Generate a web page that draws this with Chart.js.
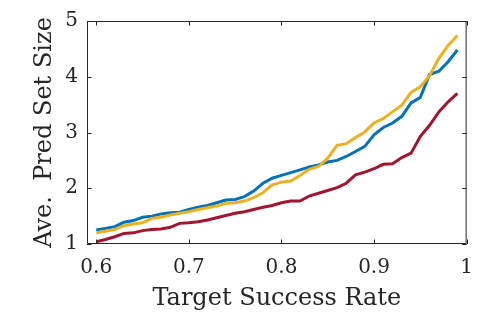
<!DOCTYPE html>
<html>
<head>
<meta charset="utf-8">
<script src="https://cdn.jsdelivr.net/npm/chart.js@4.4.1/dist/chart.umd.min.js"></script>
<style>
  html, body { margin: 0; padding: 0; background: #fff; }
  canvas { display: block; }
</style>
</head>
<body>
<canvas id="myChart" width="485" height="316"></canvas>
<script>
"use strict";

// DATA
const targetRate = [0.60, 0.61, 0.62, 0.63, 0.64, 0.65, 0.66, 0.67, 0.68, 0.69,
  0.70, 0.71, 0.72, 0.73, 0.74, 0.75, 0.76, 0.77, 0.78, 0.79,
  0.80, 0.81, 0.82, 0.83, 0.84, 0.85, 0.86, 0.87, 0.88, 0.89,
  0.90, 0.91, 0.92, 0.93, 0.94, 0.95, 0.96, 0.97, 0.98, 0.99];

const blueSize = [1.25, 1.28, 1.31, 1.39, 1.42, 1.48, 1.50, 1.54, 1.56, 1.57,
  1.62, 1.66, 1.69, 1.74, 1.79, 1.80, 1.85, 1.95, 2.09, 2.18,
  2.23, 2.28, 2.33, 2.38, 2.42, 2.47, 2.50, 2.57, 2.66, 2.75,
  2.96, 3.09, 3.17, 3.29, 3.53, 3.63, 4.04, 4.10, 4.27, 4.48];

const yellowSize = [1.20, 1.23, 1.26, 1.33, 1.36, 1.38, 1.46, 1.48, 1.52, 1.55,
  1.58, 1.62, 1.65, 1.68, 1.73, 1.74, 1.77, 1.83, 1.92, 2.06,
  2.11, 2.13, 2.23, 2.34, 2.39, 2.54, 2.77, 2.80, 2.91, 3.01,
  3.17, 3.25, 3.37, 3.49, 3.72, 3.82, 4.02, 4.33, 4.56, 4.74];

const redSize = [1.04, 1.08, 1.13, 1.19, 1.20, 1.24, 1.26, 1.27, 1.30, 1.37,
  1.38, 1.40, 1.43, 1.47, 1.51, 1.55, 1.58, 1.62, 1.66, 1.69,
  1.74, 1.77, 1.77, 1.86, 1.91, 1.96, 2.01, 2.09, 2.24, 2.29,
  2.35, 2.43, 2.44, 2.55, 2.63, 2.93, 3.13, 3.37, 3.55, 3.70];

const xTicks = [0.6, 0.7, 0.8, 0.9, 1];
const yTicks = [1, 2, 3, 4, 5];

const axisColor = "#262626";
const serif = "'DejaVu Serif', 'Liberation Serif', serif";

// HELPERS
const toPoints = function (ys) {
  return ys.map((y, i) => ({ x: targetRate[i], y: y }));
};

// matlab-like box with inward ticks on all four sides
const boxPlugin = {
  id: "matlabBox",
  afterDatasetsDraw(chart) {
    const { ctx, chartArea: a, scales } = chart;
    const len = 4.5;
    ctx.save();
    ctx.strokeStyle = axisColor;
    ctx.lineWidth = 1;
    ctx.beginPath();
    ctx.rect(a.left + 0.5, a.top + 0.5, a.right - a.left - 1, a.bottom - a.top - 1);
    xTicks.forEach((v) => {
      const px = Math.round(scales.x.getPixelForValue(v)) + 0.5;
      ctx.moveTo(px, a.bottom);
      ctx.lineTo(px, a.bottom - len);
      ctx.moveTo(px, a.top);
      ctx.lineTo(px, a.top + len);
    });
    yTicks.forEach((v) => {
      const py = Math.round(scales.y.getPixelForValue(v)) + 0.5;
      ctx.moveTo(a.left, py);
      ctx.lineTo(a.left + len, py);
      ctx.moveTo(a.right, py);
      ctx.lineTo(a.right - len, py);
    });
    ctx.stroke();
    ctx.restore();
  },
};

const lineSet = function (data, color, order) {
  return {
    data: toPoints(data),
    borderColor: color,
    backgroundColor: color,
    borderWidth: 3,
    pointRadius: 0,
    tension: 0,
    fill: false,
    order: order,
  };
};

const config = {
  type: "line",
  data: {
    datasets: [
      lineSet(yellowSize, "#EDB120", 1),
      lineSet(redSize, "#A2142F", 2),
      lineSet(blueSize, "#0072BD", 3),
    ],
  },
  options: {
    responsive: false,
    animation: false,
    devicePixelRatio: 1,
    layout: { padding: { left: 0, top: 15, right: 6, bottom: 0 } },
    plugins: { legend: { display: false }, tooltip: { enabled: false } },
    scales: {
      x: {
        type: "linear",
        min: 0.59,
        max: 1,
        afterBuildTicks: (scale) => {
          scale.ticks = xTicks.map((v) => ({ value: v }));
        },
        afterFit: (scale) => {
          scale.height = 72;
        },
        grid: { display: false, drawTicks: false },
        border: { display: false },
        ticks: {
          padding: 12,
          color: axisColor,
          font: { family: serif, size: 20 },
          callback: (v) => String(v),
          maxRotation: 0,
        },
        title: {
          display: true,
          text: "Target Success Rate",
          color: axisColor,
          font: { family: serif, size: 24 },
          padding: { top: 0, bottom: 3 },
        },
      },
      y: {
        min: 1,
        max: 5,
        afterBuildTicks: (scale) => {
          scale.ticks = yTicks.map((v) => ({ value: v }));
        },
        afterFit: (scale) => {
          scale.width = 87;
        },
        grid: { display: false, drawTicks: false },
        border: { display: false },
        ticks: {
          padding: 9,
          color: axisColor,
          font: { family: serif, size: 20 },
        },
        title: {
          display: true,
          text: "Ave.  Pred Set Size",
          color: axisColor,
          font: { family: serif, size: 24 },
          padding: { top: 30, bottom: 0 },
        },
      },
    },
  },
  plugins: [boxPlugin],
};

const myChart = new Chart(document.getElementById("myChart"), config);
</script>
</body>
</html>
